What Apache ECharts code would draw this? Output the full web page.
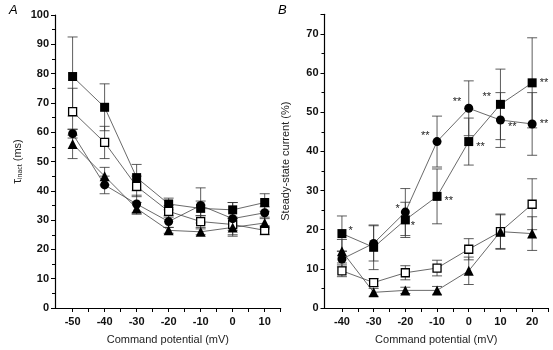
<!DOCTYPE html>
<html>
<head>
<meta charset="utf-8">
<script src="https://cdn.jsdelivr.net/npm/echarts@6/dist/echarts.min.js"></script>
<style>
  html, body { margin: 0; padding: 0; background: #fff; }
  #main { width: 553px; height: 350px; }
</style>
</head>
<body>
<div id="main"></div>
<script>
// panel A: inactivation time constant
var potA = [-50, -40, -30, -20, -10, 0, 10];
var aSqFill = [79, 68.5, 44.5, 35.5, 34, 33.5, 36];
var aSqFillErr = [13.5, 8, 4.5, 2, 2.5, 2.5, 3];
var aSqOpen = [67, 56.5, 41.5, 33, 29.5, 28.5, 26.5];
var aSqOpenErr = [8, 5.5, 3.5, 2, 2, 2, 1.5];
var aCirc = [59.5, 42, 35.5, 29.5, 35, 30.5, 32.5];
var aCircErr = [1.5, 3, 3, 2, 6, 5.5, 2];
var aTri = [56, 45, 34, 26.5, 26, 27.5, 29];
var aTriErr = [5, 3, 2, 1, 1, 3, 2];

// panel B: steady-state current
var potB = [-40, -30, -20, -10, 0, 10, 20];
var bSqFill = [19, 15.5, 22.5, 28.5, 42.5, 52, 57.5];
var bSqFillErr = [4.5, 5.7, 4.5, 7, 6, 9, 11.5];
var bCirc = [12.5, 16.5, 24.5, 42.5, 51, 48, 47];
var bCircErr = [2, 4.5, 6, 6.5, 7, 7, 8];
var bSqOpen = [9.5, 6.5, 9, 10.2, 15, 19.5, 26.5];
var bSqOpenErr = [1.5, 1, 1.8, 2, 2.7, 4.3, 6.5];
var bTri = [14.5, 4, 4.5, 4.5, 9.5, 19.5, 19];
var bTriErr = [3, 1, 0.8, 1, 3.5, 4.5, 4.3];
var bSqStars = ['*', '', '*', '**', '**', '**', '**'];
var bCircStars = ['', '', '*', '**', '**', '**', '**'];

var ticksA = [-50, -40, -30, -20, -10, 0, 10];
var minorA = [-50, -45, -40, -35, -30, -25, -20, -15, -10, -5, 0, 5, 10, 15];
var ticksB = [-40, -30, -20, -10, 0, 10, 20];
var minorB = [-40, -35, -30, -25, -20, -15, -10, -5, 0, 5, 10, 15, 20, 25];

var FONT = "'Liberation Sans', Arial, sans-serif";
var chart = echarts.init(document.getElementById('main'));

// label placement for the significance stars
var sqStarPos = [['right', [-1, -3]], null, ['right', [-2, 6]], ['right', [0, 5]], ['right', [0, 5]], ['left', [-2, -7]], ['right', [0, 0]]];
var circStarPos = [null, null, ['left', [2, -3]], ['left', [0, -6]], ['left', [0, -6]], ['right', [0, 7]], ['right', [0, 0]]];

function errSeries(xs, ys, es, idx) {
  return {
    type: 'custom', xAxisIndex: idx, yAxisIndex: idx, z: 1, silent: true,
    data: xs.map(function (x, i) { return [x, ys[i], es[i]]; }),
    renderItem: function (params, api) {
      var x = api.value(0), y = api.value(1), e = api.value(2);
      var hi = api.coord([x, y + e]), lo = api.coord([x, y - e]);
      var w = 5;
      var st = { stroke: '#333', lineWidth: 0.8 };
      return { type: 'group', children: [
        { type: 'line', shape: { x1: hi[0], y1: hi[1], x2: lo[0], y2: lo[1] }, style: st },
        { type: 'line', shape: { x1: hi[0] - w, y1: hi[1], x2: hi[0] + w, y2: hi[1] }, style: st },
        { type: 'line', shape: { x1: lo[0] - w, y1: lo[1], x2: lo[0] + w, y2: lo[1] }, style: st }
      ]};
    }
  };
}

function lineSeries(xs, ys, idx, symbol, size, open, stars, pos) {
  return {
    type: 'line', xAxisIndex: idx, yAxisIndex: idx, z: 3,
    symbol: symbol, symbolSize: size, showAllSymbol: true,
    lineStyle: { color: '#444', width: 0.8 },
    itemStyle: open ? { color: '#fff', borderColor: '#000', borderWidth: 1.3 } : { color: '#000', borderWidth: 0 },
    data: xs.map(function (x, i) {
      var d = { value: [x, ys[i]] };
      if (stars && stars[i]) {
        d.label = { show: true, formatter: stars[i], position: pos[i][0], offset: pos[i][1],
          fontSize: 11, color: '#222', fontFamily: FONT, distance: 3 };
      }
      return d;
    })
  };
}

var axisLineStyle = { onZero: false, lineStyle: { color: '#000', width: 1.2 } };
var labelStyle = { color: '#111', fontSize: 11, fontWeight: 'bold', fontFamily: FONT };
var nameStyle = { color: '#222', fontSize: 11, fontFamily: FONT };

var option = {
  animation: false,
  backgroundColor: '#fff',
  grid: [
    { left: 55, top: 15, width: 225.7, height: 296 },
    { left: 324.5, top: 14.3, width: 223.5, height: 296 }
  ],
  xAxis: [
    { type: 'value', gridIndex: 0, min: -55.5, max: 15,
      name: 'Command potential (mV)', nameLocation: 'middle', nameGap: 26, nameTextStyle: nameStyle,
      axisLine: axisLineStyle, splitLine: { show: false },
      axisTick: { customValues: minorA, length: 4, lineStyle: { color: '#000' } },
      axisLabel: Object.assign({ customValues: ticksA, margin: 8 }, labelStyle) },
    { type: 'value', gridIndex: 1, min: -45.5, max: 25,
      name: 'Command potential (mV)', nameLocation: 'middle', nameGap: 26, nameTextStyle: nameStyle,
      axisLine: axisLineStyle, splitLine: { show: false },
      axisTick: { customValues: minorB, length: 4, lineStyle: { color: '#000' } },
      axisLabel: Object.assign({ customValues: ticksB, margin: 8 }, labelStyle) }
  ],
  yAxis: [
    { type: 'value', gridIndex: 0, min: 0, max: 100, interval: 10,
      name: '{t|τ}{s|inact} (ms)', nameLocation: 'middle', nameGap: 31, nameRotate: 90,
      nameTextStyle: Object.assign({ rich: { t: { fontSize: 12, fontFamily: FONT, color: '#222' },
        s: { fontSize: 7, fontFamily: FONT, color: '#222', verticalAlign: 'bottom', padding: [4, 0, 0, 0] } } }, nameStyle),
      axisLine: axisLineStyle, splitLine: { show: false },
      axisTick: { length: 4, lineStyle: { color: '#000' } },
      minorTick: { show: true, splitNumber: 2, length: 3, lineStyle: { color: '#000' } },
      axisLabel: Object.assign({ margin: 6 }, labelStyle) },
    { type: 'value', gridIndex: 1, min: 0, max: 75, interval: 10,
      name: 'Steady-state current (%)', nameLocation: 'middle', nameGap: 33, nameRotate: 90,
      nameTextStyle: nameStyle,
      axisLine: axisLineStyle, splitLine: { show: false },
      axisTick: { length: 4, lineStyle: { color: '#000' } },
      minorTick: { show: true, splitNumber: 2, length: 3, lineStyle: { color: '#000' } },
      axisLabel: Object.assign({ margin: 6, formatter: function (v) { return v % 10 ? '' : v; } }, labelStyle) }
  ],
  graphic: [
    { type: 'text', left: 9, top: 4, style: { text: 'A', fontSize: 13, fontStyle: 'italic', fontFamily: FONT, fill: '#000' } },
    { type: 'text', left: 278, top: 4, style: { text: 'B', fontSize: 13, fontStyle: 'italic', fontFamily: FONT, fill: '#000' } }
  ],
  series: [
    errSeries(potA, aSqFill, aSqFillErr, 0),
    errSeries(potA, aSqOpen, aSqOpenErr, 0),
    errSeries(potA, aCirc, aCircErr, 0),
    errSeries(potA, aTri, aTriErr, 0),
    lineSeries(potA, aSqFill, 0, 'rect', 9, false),
    lineSeries(potA, aSqOpen, 0, 'rect', 8, true),
    lineSeries(potA, aCirc, 0, 'circle', 9, false),
    lineSeries(potA, aTri, 0, 'triangle', 10, false),
    errSeries(potB, bSqFill, bSqFillErr, 1),
    errSeries(potB, bCirc, bCircErr, 1),
    errSeries(potB, bSqOpen, bSqOpenErr, 1),
    errSeries(potB, bTri, bTriErr, 1),
    lineSeries(potB, bSqFill, 1, 'rect', 9, false, bSqStars, sqStarPos),
    lineSeries(potB, bCirc, 1, 'circle', 9, false, bCircStars, circStarPos),
    lineSeries(potB, bSqOpen, 1, 'rect', 8, true),
    lineSeries(potB, bTri, 1, 'triangle', 10, false)
  ]
};

chart.setOption(option);
</script>
</body>
</html>
